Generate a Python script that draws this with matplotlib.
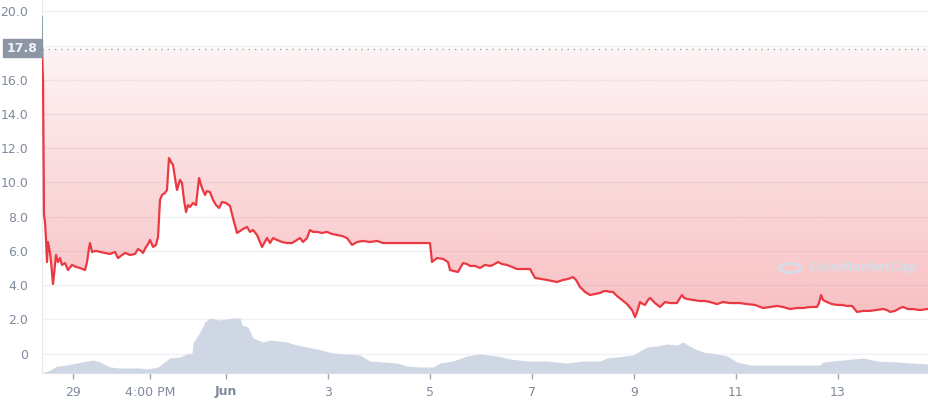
import matplotlib.pyplot as plt
import numpy as np
from matplotlib.patches import Polygon, Rectangle, Circle
from matplotlib.colors import to_rgb

# Price (days since May 29 00:00)
days = [-0.610, -0.605, -0.600, -0.588, -0.569, -0.549, -0.529, -0.510, -0.490, -0.451,
        -0.431, -0.392, -0.373, -0.333, -0.294, -0.255, -0.216, -0.157, -0.098, -0.020,
        0.059, 0.137, 0.235, 0.275, 0.314, 0.333, 0.373, 0.451, 0.529, 0.627,
        0.725, 0.824, 0.882, 0.961, 1.020, 1.118, 1.216, 1.275, 1.333, 1.373,
        1.431, 1.471, 1.510, 1.569, 1.627, 1.667, 1.706, 1.745, 1.804, 1.843,
        1.882, 1.922, 1.961, 2.000, 2.039, 2.098, 2.137, 2.176, 2.216, 2.255,
        2.294, 2.353, 2.412, 2.471, 2.529, 2.588, 2.627, 2.686, 2.745, 2.804,
        2.863, 2.922, 3.000, 3.078, 3.137, 3.216, 3.275, 3.333, 3.412, 3.471,
        3.529, 3.608, 3.706, 3.804, 3.863, 3.922, 4.000, 4.098, 4.196, 4.294,
        4.392, 4.451, 4.510, 4.588, 4.647, 4.706, 4.784, 4.882, 4.980, 5.078,
        5.176, 5.275, 5.373, 5.471, 5.569, 5.686, 5.824, 5.961, 6.078, 6.216,
        6.353, 6.510, 6.667, 6.824, 7.000, 7.039, 7.137, 7.255, 7.353, 7.392,
        7.471, 7.549, 7.647, 7.725, 7.784, 7.882, 7.980, 8.078, 8.176, 8.235,
        8.333, 8.412, 8.510, 8.608, 8.706, 8.824, 8.961, 9.059, 9.176, 9.294,
        9.392, 9.490, 9.608, 9.706, 9.804, 9.863, 9.941, 10.039, 10.137, 10.235,
        10.333, 10.412, 10.471, 10.529, 10.588, 10.667, 10.765, 10.863, 10.961, 11.020,
        11.059, 11.118, 11.176, 11.216, 11.275, 11.314, 11.412, 11.510, 11.608, 11.706,
        11.843, 11.902, 11.941, 11.980, 12.039, 12.157, 12.294, 12.392, 12.490, 12.627,
        12.745, 12.882, 13.078, 13.216, 13.373, 13.529, 13.667, 13.804, 13.922, 14.059,
        14.196, 14.314, 14.451, 14.588, 14.627, 14.667, 14.706, 14.784, 14.882, 14.980,
        15.078, 15.176, 15.275, 15.373, 15.490, 15.627, 15.745, 15.882, 15.961, 16.020,
        16.118, 16.216, 16.275, 16.373, 16.471, 16.608, 16.745, 16.784]
price = [19.70, 17.80, 17.00, 16.00, 8.10, 7.70, 6.64, 5.35, 6.52, 5.88,
         5.35, 4.06, 4.60, 5.76, 5.35, 5.58, 5.18, 5.29, 4.88, 5.18,
         5.06, 5.00, 4.88, 5.35, 6.17, 6.46, 5.94, 6.00, 5.94, 5.88,
         5.82, 5.94, 5.58, 5.76, 5.88, 5.76, 5.82, 6.11, 6.00, 5.88,
         6.23, 6.40, 6.64, 6.23, 6.35, 6.81, 8.98, 9.27, 9.39, 9.56,
         11.43, 11.20, 11.02, 10.26, 9.56, 10.15, 9.97, 8.98, 8.27, 8.68,
         8.57, 8.80, 8.68, 10.26, 9.68, 9.27, 9.50, 9.44, 8.98, 8.68,
         8.51, 8.86, 8.80, 8.63, 7.92, 7.05, 7.16, 7.28, 7.40, 7.11,
         7.22, 6.93, 6.23, 6.75, 6.46, 6.75, 6.64, 6.52, 6.46, 6.46,
         6.64, 6.75, 6.52, 6.75, 7.22, 7.11, 7.11, 7.05, 7.11, 6.99,
         6.93, 6.87, 6.75, 6.35, 6.52, 6.58, 6.52, 6.58, 6.46, 6.46,
         6.46, 6.46, 6.46, 6.46, 6.46, 5.35, 5.58, 5.53, 5.35, 4.88,
         4.82, 4.77, 5.29, 5.23, 5.12, 5.12, 5.00, 5.18, 5.12, 5.18,
         5.35, 5.23, 5.18, 5.06, 4.94, 4.94, 4.94, 4.42, 4.36, 4.30,
         4.24, 4.18, 4.30, 4.36, 4.47, 4.30, 3.89, 3.60, 3.42, 3.48,
         3.54, 3.65, 3.65, 3.60, 3.60, 3.36, 3.13, 2.89, 2.54, 2.13,
         2.42, 3.01, 2.89, 2.84, 3.13, 3.25, 2.95, 2.72, 3.01, 2.95,
         2.95, 3.25, 3.42, 3.25, 3.19, 3.13, 3.07, 3.07, 3.01, 2.89,
         3.01, 2.95, 2.95, 2.89, 2.84, 2.66, 2.72, 2.78, 2.72, 2.60,
         2.66, 2.66, 2.72, 2.72, 2.95, 3.42, 3.13, 3.01, 2.89, 2.84,
         2.84, 2.78, 2.78, 2.43, 2.49, 2.49, 2.54, 2.60, 2.54, 2.43,
         2.49, 2.66, 2.72, 2.60, 2.60, 2.54, 2.60, 2.60]
open_price = 17.8

# Volume (relative units)
vol_days = [-0.608, -0.451, -0.314, -0.118, 0.078, 0.275, 0.392, 0.529, 0.725, 0.922,
            1.314, 1.451, 1.667, 1.765, 1.902, 2.098, 2.235, 2.333, 2.353, 2.490,
            2.588, 2.686, 2.882, 3.137, 3.275, 3.314, 3.431, 3.529, 3.725, 3.863,
            4.196, 4.314, 4.588, 4.784, 5.098, 5.627, 5.824, 6.353, 6.549, 6.804,
            7.059, 7.196, 7.451, 7.725, 7.980, 8.314, 8.569, 8.902, 9.294, 9.686,
            10.000, 10.333, 10.471, 10.667, 10.980, 11.255, 11.451, 11.647, 11.843, 11.961,
            12.157, 12.353, 12.627, 12.824, 13.020, 13.275, 13.804, 14.647, 14.706, 15.098,
            15.490, 15.765, 16.157, 16.412, 16.784]
volume = [0, 3, 7, 8, 10, 12, 13, 11, 6, 5,
          5, 4, 6, 10, 15, 16, 19, 20, 30, 41,
          51, 55, 53, 55, 55, 48, 46, 35, 31, 33,
          31, 29, 26, 24, 20, 18, 12, 10, 7, 6,
          6, 10, 12, 17, 19, 17, 14, 12, 12, 10,
          12, 12, 15, 16, 18, 26, 27, 29, 28, 31,
          25, 21, 19, 17, 11, 8, 8, 8, 11, 13,
          15, 12, 11, 10, 9]

tick_pos = [0, 1.51, 3, 5, 7, 9, 11, 13, 15]
tick_labels = ['29', '4:00 PM', 'Jun', '3', '5', '7', '9', '11', '13']

days = np.array(days)
price = np.array(price)

red = '#ea3943'
grey_txt = '#808a9d'
grid_c = '#eff2f5'

fig = plt.figure(figsize=(9.29, 4.0), dpi=100)
ax = fig.add_axes([42 / 929, 27 / 400, 887 / 929, 373 / 400])

x0, x1 = -0.608, 16.784
y0, y1 = -1.14, 20.67

# gradient fill between the line and the opening price
verts = np.vstack([np.column_stack([days[1:], price[1:]]),
                   [[days[-1], open_price], [days[1], open_price]]])
clip = Polygon(verts, closed=True, facecolor='none', edgecolor='none')
ax.add_patch(clip)
n = 256
alpha = np.linspace(0.32, 0.06, n)
grad = np.zeros((n, 1, 4))
grad[:, 0, :3] = to_rgb(red)
grad[:, 0, 3] = alpha
im = ax.imshow(grad, extent=[x0, x1, price.min(), open_price], origin='lower',
               aspect='auto', zorder=1, interpolation='bilinear')
im.set_clip_path(clip)

ax.plot(days[:2], price[:2], color='#7f9ea6', lw=1.3, zorder=3)
ax.plot(days[1:], price[1:], color=red, lw=1.6, zorder=3)
ax.axhline(open_price, color='#9aa3b1', lw=1, linestyle=(0, (1, 3.5)), zorder=2)

ax.set_xlim(x0, x1)
ax.set_ylim(y0, y1)
ax.set_yticks(range(0, 21, 2))
ax.set_yticklabels(['0'] + ['%.1f' % v if v != 18 else '' for v in range(2, 21, 2)])
ax.set_xticks(tick_pos)
ax.set_xticklabels(tick_labels)
ax.get_xticklabels()[2].set_fontweight('bold')
ax.tick_params(axis='y', length=0, pad=10, labelsize=9, labelcolor=grey_txt)
ax.tick_params(axis='x', length=4, width=1, color='#a1a7bb', pad=5, labelsize=9,
               labelcolor=grey_txt)
ax.grid(axis='y', color=grid_c, lw=1, zorder=0)
ax.set_axisbelow(True)
for s in ['top', 'right']:
    ax.spines[s].set_visible(False)
ax.spines['left'].set_color('#e6e9ee')
ax.spines['bottom'].set_color('#e6e9ee')

# volume on hidden twin axis
ax2 = ax.twinx()
ax2.fill_between(vol_days, volume, 0, color='#cfd6e4', lw=0)
ax2.set_ylim(0, max(volume) * 373 / 55)
ax2.set_xlim(x0, x1)
ax2.axis('off')

# current open price label
fig.patches.append(Rectangle((3 / 929, 343 / 400), 39 / 929, 18 / 400,
                             transform=fig.transFigure, color='#8d96a5', zorder=5))
fig.text(22.5 / 929, 352 / 400, '17.8', color='#f1f3f6', fontsize=9, ha='center',
         va='center', fontweight='bold', zorder=6)

# watermark
fig.patches.append(Circle((790 / 929, 132 / 400), 0.0115, transform=fig.transFigure,
                          fill=False, ec='#d6dce6', lw=2.2, zorder=4))
fig.text(808 / 929, 132 / 400, 'CoinMarketCap', color='#d6dce6', fontsize=9.2,
         fontweight='bold', ha='left', va='center', zorder=4)

fig.savefig('out.png', dpi=100, facecolor='white')
